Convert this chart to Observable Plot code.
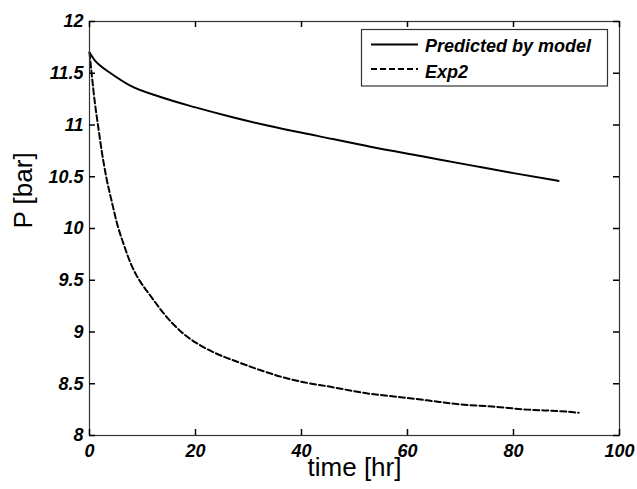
<!DOCTYPE html>
<html><head><meta charset="utf-8">
<script src="https://cdn.jsdelivr.net/npm/d3@7"></script>
<script src="https://cdn.jsdelivr.net/npm/@observablehq/plot@0.6"></script>
<style>
html,body{margin:0;padding:0;background:#fff;}
#chart{position:relative;width:637px;height:489px;}
</style></head><body><div id="chart"></div>
<script>
// ---- data ----
const predTime = [0,1,2,4,7.7,13.4,20,27,34,43,53,62.5,72,80,88.5];
const predP    = [11.70,11.625,11.575,11.50,11.38,11.27,11.17,11.075,10.99,10.895,10.79,10.70,10.61,10.535,10.46];
const expTime  = [0,0.4,1.0,1.6,2.3,3.15,4.2,5.3,6.5,7.8,9.0,10.2,11.5,14,17.8,20.3,24,28,32.3,36.7,40.4,45.5,52,58.7,63.7,70,76,82.6,88.9,92.3];
const expP     = [11.70,11.50,11.22,11.00,10.75,10.50,10.26,10.03,9.84,9.66,9.535,9.44,9.35,9.18,8.98,8.89,8.79,8.71,8.63,8.56,8.515,8.47,8.41,8.37,8.34,8.30,8.28,8.25,8.235,8.22];
const seriesNames = ["Predicted by model","Exp2"];
const xTicks = [0,20,40,60,80,100];
const xTickLabels = ["0","20","40","60","80","100"];
const yTicks = [8,8.5,9,9.5,10,10.5,11,11.5,12];
const yTickLabels = ["8","8.5","9","9.5","10","10.5","11","11.5","12"];
const xLabel = "time [hr]";
const yLabel = "P [bar]";

// ---- layout ----
const W = 637, H = 489, mL = 89, mR = 18, mT = 21, mB = 54;
const innerW = W - mL - mR, innerH = H - mT - mB, tk = 6;
const xDom = [0, 100], yDom = [8, 12];
const font = "'Liberation Sans', Arial, Helvetica, sans-serif";

const pred = predTime.map((t, i) => ({t, p: predP[i]}));
const exp2 = expTime.map((t, i) => ({t, p: expP[i]}));

const tickTxt = {fontSize: 18, fontWeight: "bold", fontStyle: "italic", fill: "#000"};
const tickStyle = {stroke: "#000", strokeWidth: 1.5};

const plot = Plot.plot({
  width: W, height: H,
  marginLeft: mL, marginRight: mR, marginTop: mT, marginBottom: mB,
  style: {background: "#fff", fontFamily: font},
  x: {domain: xDom},
  y: {domain: yDom},
  marks: [
    Plot.line(exp2, {x: "t", y: "p", stroke: "#000", strokeWidth: 2, strokeDasharray: "6,3", curve: "monotone-x"}),
    Plot.line(pred, {x: "t", y: "p", stroke: "#000", strokeWidth: 2, curve: "monotone-x"}),
    Plot.frame({stroke: "#333", strokeWidth: 1.2}),
    // inward MATLAB-style ticks on all four sides
    Plot.tickX(xTicks, {x: d => d, insetTop: innerH - tk, ...tickStyle}),
    Plot.tickX(xTicks, {x: d => d, insetBottom: innerH - tk, ...tickStyle}),
    Plot.tickY(yTicks, {y: d => d, insetRight: innerW - tk, ...tickStyle}),
    Plot.tickY(yTicks, {y: d => d, insetLeft: innerW - tk, ...tickStyle}),
    Plot.axisX(xTicks, {tickSize: 0, tickPadding: 9, label: null,
      tickFormat: d => xTickLabels[xTicks.indexOf(d)], ...tickTxt}),
    Plot.axisY(yTicks, {tickSize: 0, tickPadding: 6, label: null,
      tickFormat: d => yTickLabels[yTicks.indexOf(d)], ...tickTxt}),
    Plot.text([xLabel], {frameAnchor: "bottom", dy: 40, fontSize: 26, fill: "#000"}),
    Plot.text([yLabel], {frameAnchor: "left", dx: -66, rotate: -90, fontSize: 26, fill: "#000"})
  ]
});

// ---- legend (inside the axes, top right) ----
const svg = d3.select(plot);
const lg = svg.append("g");
lg.append("rect").attr("x", 361.5).attr("y", 29.5).attr("width", 246).attr("height", 56.5)
  .attr("fill", "#fff").attr("stroke", "#333").attr("stroke-width", 1.2);
const dashes = [null, "6,3"];
const lineY = [44.5, 69];
const textY = [51.7, 78.3];
seriesNames.forEach((name, i) => {
  const l = lg.append("line").attr("x1", 371).attr("x2", 418).attr("y1", lineY[i]).attr("y2", lineY[i])
    .attr("stroke", "#000").attr("stroke-width", 2);
  if (dashes[i]) l.attr("stroke-dasharray", dashes[i]);
  lg.append("text").attr("x", 425).attr("y", textY[i]).text(name)
    .attr("text-anchor", "start")
    .attr("font-family", font).attr("font-size", 18).attr("font-weight", "bold")
    .attr("font-style", "italic").attr("fill", "#000");
});

document.getElementById("chart").appendChild(plot);
</script>
</body></html>
